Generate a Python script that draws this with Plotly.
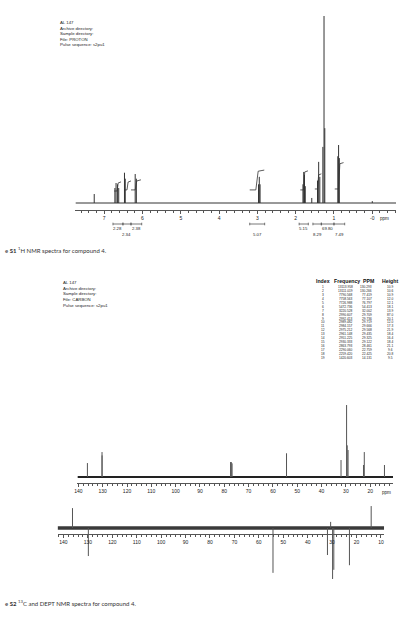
import plotly.graph_objects as go

# ---------------- data ----------------
# 1H spectrum (ppm, relative intensity)
h_peak_ppm = [7.26, 6.72, 6.69, 6.65, 6.62, 6.47, 6.45, 6.19, 6.16,
              2.97, 2.95, 2.93, 1.81, 1.79, 1.77, 1.75, 1.58,
              1.43, 1.40, 1.37, 1.29, 1.26, 1.24, 0.90, 0.88, 0.86, 0.00]
h_peak_int = [4.8, 8.0, 10.7, 10.0, 8.0, 16.2, 13.0, 15.5, 13.0,
              10.0, 14.0, 10.0, 10.0, 16.6, 15.0, 9.0, 2.7,
              12.0, 22.0, 14.0, 30.0, 100.0, 40.0, 25.0, 31.0, 24.0, 1.0]
# integral regions
h_int_from = [6.77, 6.51, 6.30, 3.20, 1.91, 1.55, 1.33, 1.00]
h_int_to = [6.51, 6.30, 6.02, 2.81, 1.67, 1.33, 1.00, 0.72]
h_int_value = ["2.28", "2.34", "2.38", "5.07", "5.15", "8.29", "69.80", "7.49"]
# integral curves (start ppm, end ppm, low level, high level)
h_curve_from = [6.74, 6.48, 6.30, 3.20, 1.88, 1.50, 0.98]
h_curve_to = [6.56, 6.30, 6.04, 2.82, 1.68, 1.33, 0.75]
h_curve_lo = [6.4, 7.0, 7.0, 7.0, 7.0, 7.5, 7.5]
h_curve_hi = [10.7, 11.2, 11.8, 17.0, 16.6, 15.0, 21.0]
h_tick_vals = [7, 6, 5, 4, 3, 2, 1, 0]
h_tick_text = ["7", "6", "5", "4", "3", "2", "1", "-0"]

# 13C spectrum
c_peak_ppm = [136.3, 130.29, 130.27, 77.42, 77.11, 76.80, 54.41, 32.00,
              29.71, 29.45, 29.10, 22.76, 22.43, 14.13]
c_peak_int = [19.4, 34.7, 30.0, 20.8, 20.8, 19.0, 33.0, 23.6,
              100.0, 44.0, 37.5, 16.7, 34.7, 16.7]
c_tick_vals = [140, 130, 120, 110, 100, 90, 80, 70, 60, 50, 40, 30, 20]
c_tick_text = ["140", "130", "120", "110", "100", "90", "80", "70", "60",
               "50", "40", "30", "20"]

# DEPT spectrum
d_peak_ppm = [136.3, 129.8, 54.2, 31.9, 30.6, 29.8, 29.3, 22.9, 14.0]
d_peak_int = [39.0, -55.0, -88.0, -53.0, 12.0, -100.0, -82.0, -73.0, 43.0]
d_tick_vals = [140, 130, 120, 110, 100, 90, 80, 70, 60, 50, 40, 30, 20, 10]
d_tick_text = ["140", "130", "120", "110", "100", "90", "80", "70", "60",
               "50", "40", "30", "20", "10"]

# peak table
tbl_index = [str(i) for i in range(1, 20)]
tbl_freq = ["13113.958", "13111.019", "7790.568", "7758.563", "7726.988",
            "5472.736", "3220.528", "2990.607", "2992.413", "2989.482",
            "2984.157", "2975.212", "2961.148", "2951.225", "2930.333",
            "2863.793", "2290.060", "2259.420", "1420.603"]
tbl_ppm = ["130.293", "130.266", "77.419", "77.107", "76.797", "54.413",
           "32.002", "29.709", "29.736", "29.719", "29.666", "29.568",
           "29.435", "29.325", "29.122", "28.461", "22.759", "22.425",
           "14.131"]
tbl_height = ["10.9", "10.6", "10.9", "12.0", "12.1", "18.1", "13.9", "87.0",
              "20.1", "12.0", "17.3", "21.9", "18.4", "16.4", "18.4", "21.1",
              "9.6", "20.8", "9.5"]

h_info = ["AL 147", "Archive directory:", "Sample directory:", "File: PROTON",
          "Pulse sequence: s2pu1"]
c_info = ["AL 147", "Archive directory:", "Sample directory:", "File: CARBON",
          "Pulse sequence: s2pu1"]

# ---------------- layout helpers ----------------
W, H = 400, 628
LINE = "#333333"
AX = "#555555"
TXT = "#222222"
FONT = "Liberation Sans"


def px(x):
    return x / W


def py(y):
    return 1 - y / H


def stems(ppms, ints):
    xs, ys = [], []
    for p, v in zip(ppms, ints):
        xs += [p, p, None]
        ys += [0, v, None]
    return xs, ys


H_RANGE = [7.75, -0.62]
C_RANGE = [140.4, 10.6]
D_RANGE = [142.4, 8.7]

fig = go.Figure()

# 1H
fig.add_trace(go.Scatter(x=H_RANGE, y=[0, 0], mode="lines", xaxis="x", yaxis="y",
                         line=dict(color=LINE, width=1), hoverinfo="skip"))
sx, sy = stems(h_peak_ppm, h_peak_int)
fig.add_trace(go.Scatter(x=sx, y=sy, mode="lines", xaxis="x", yaxis="y",
                         line=dict(color=LINE, width=1), hoverinfo="skip"))
ix, iy = [], []
for a, b, lo, hi in zip(h_curve_from, h_curve_to, h_curve_lo, h_curve_hi):
    ix += [a, a + (b - a) * 0.42, a + (b - a) * 0.58, b, None]
    iy += [lo, lo, hi, hi + 0.6, None]
fig.add_trace(go.Scatter(x=ix, y=iy, mode="lines", xaxis="x", yaxis="y",
                         line=dict(color=LINE, width=0.8), hoverinfo="skip"))

# 13C
fig.add_trace(go.Scatter(x=C_RANGE, y=[0, 0], mode="lines", xaxis="x2", yaxis="y2",
                         line=dict(color="#222222", width=2), hoverinfo="skip"))
sx, sy = stems(c_peak_ppm, c_peak_int)
fig.add_trace(go.Scatter(x=sx, y=sy, mode="lines", xaxis="x2", yaxis="y2",
                         line=dict(color="#555555", width=1), hoverinfo="skip"))

# DEPT
fig.add_trace(go.Scatter(x=D_RANGE, y=[0, 0], mode="lines", xaxis="x3", yaxis="y3",
                         line=dict(color="#3a3a3a", width=3.5), hoverinfo="skip"))
sx, sy = stems(d_peak_ppm, d_peak_int)
fig.add_trace(go.Scatter(x=sx, y=sy, mode="lines", xaxis="x3", yaxis="y3",
                         line=dict(color="#555555", width=1), hoverinfo="skip"))


def xax(domain, rng, vals, text, minor, **kw):
    d = dict(domain=domain, range=rng, showline=True, linecolor=AX, linewidth=1,
             ticks="outside", ticklen=3, tickwidth=1, tickcolor=AX,
             tickmode="array", tickvals=vals, ticktext=text,
             tickfont=dict(family=FONT, size=5, color=TXT),
             showgrid=False, zeroline=False, fixedrange=True,
             minor=dict(dtick=minor, tick0=0, ticks="outside", ticklen=2,
                        tickcolor=AX, showgrid=False))
    d.update(kw)
    return d


def yax(domain, rng):
    return dict(domain=domain, range=rng, showticklabels=False, showline=False,
                showgrid=False, zeroline=False, ticks="", fixedrange=True)


annotations = []
shapes = []

# info blocks
for i, t in enumerate(h_info):
    annotations.append(dict(x=px(55), y=py(22.7 + i * 5.5), xref="paper", yref="paper",
                            text=t, showarrow=False, xanchor="left", yanchor="middle",
                            font=dict(family=FONT, size=4.3, color=TXT)))
for i, t in enumerate(c_info):
    annotations.append(dict(x=px(58), y=py(282.3 + i * 5.7), xref="paper", yref="paper",
                            text=t, showarrow=False, xanchor="left", yanchor="middle",
                            font=dict(family=FONT, size=4.3, color=TXT)))

# integral brackets + labels
for i, (a, b, v) in enumerate(zip(h_int_from, h_int_to, h_int_value)):
    yb = py(224)
    shapes.append(dict(type="line", xref="x", yref="paper", x0=a, x1=b, y0=yb, y1=yb,
                       line=dict(color=AX, width=0.8)))
    for e in (a, b):
        shapes.append(dict(type="line", xref="x", yref="paper", x0=e, x1=e,
                           y0=py(225.3), y1=py(222.7), line=dict(color=AX, width=0.8)))
    annotations.append(dict(x=(a + b) / 2, y=py(229 if i % 2 == 0 else 234),
                            xref="x", yref="paper", text=v, showarrow=False,
                            xanchor="center", yanchor="middle",
                            font=dict(family=FONT, size=4.3, color=TXT)))

# ppm units
annotations.append(dict(x=px(384.5), y=py(218), xref="paper", yref="paper", text="ppm",
                        showarrow=False, xanchor="center", yanchor="middle",
                        font=dict(family=FONT, size=4.6, color=TXT)))
annotations.append(dict(x=px(386), y=py(492), xref="paper", yref="paper", text="ppm",
                        showarrow=False, xanchor="center", yanchor="middle",
                        font=dict(family=FONT, size=4.6, color=TXT)))

# table
hdr_font = dict(family=FONT, size=5.2, color="#111111")
for t, xc in (("Index", 322), ("Frequency", 347), ("PPM", 368.5), ("Height", 389.5)):
    annotations.append(dict(x=px(xc), y=py(281), xref="paper", yref="paper",
                            text="<b>%s</b>" % t, showarrow=False, xanchor="center",
                            yanchor="middle", font=hdr_font))
cell_font = dict(family=FONT, size=3.2, color=TXT)
for col, xr, anc in ((tbl_index, 322, "center"), (tbl_freq, 355, "right"),
                     (tbl_ppm, 374, "right"), (tbl_height, 395, "right")):
    for r, val in enumerate(col):
        annotations.append(dict(x=px(xr), y=py(287 + r * 3.94), xref="paper",
                                yref="paper", text=val, showarrow=False, xanchor=anc,
                                yanchor="middle", font=cell_font))

# captions
annotations.append(dict(x=0, y=py(250), xref="paper", yref="paper",
                        text="e <b>S1</b> <sup>1</sup>H NMR spectra for compound 4.",
                        showarrow=False, xanchor="left", yanchor="middle",
                        font=dict(family="Lato", size=6, color="#333333")))
annotations.append(dict(x=0, y=py(603.3), xref="paper", yref="paper",
                        text="e <b>S2</b> <sup>13</sup>C and DEPT NMR spectra for compound 4.",
                        showarrow=False, xanchor="left", yanchor="middle",
                        font=dict(family="Lato", size=6, color="#333333")))

fig.update_layout(
    width=W, height=H, margin=dict(l=0, r=0, t=0, b=0),
    paper_bgcolor="white", plot_bgcolor="white", showlegend=False,
    xaxis=xax([px(73), px(396)], H_RANGE, h_tick_vals, h_tick_text, 0.2, anchor="y"),
    yaxis=yax([py(210), py(14)], [-3.74, 101.07]),
    xaxis2=xax([px(75), px(393)], C_RANGE, c_tick_vals, c_tick_text, 2, anchor="y2"),
    yaxis2=yax([py(483), py(400)], [-8.3, 107]),
    xaxis3=xax([px(55), px(384)], D_RANGE, d_tick_vals, d_tick_text, 2,
               anchor="free", position=py(534)),
    yaxis3=yax([py(582), py(500)], [-105.9, 54.9]),
    annotations=annotations, shapes=shapes,
)

fig.write_html("out.html")
